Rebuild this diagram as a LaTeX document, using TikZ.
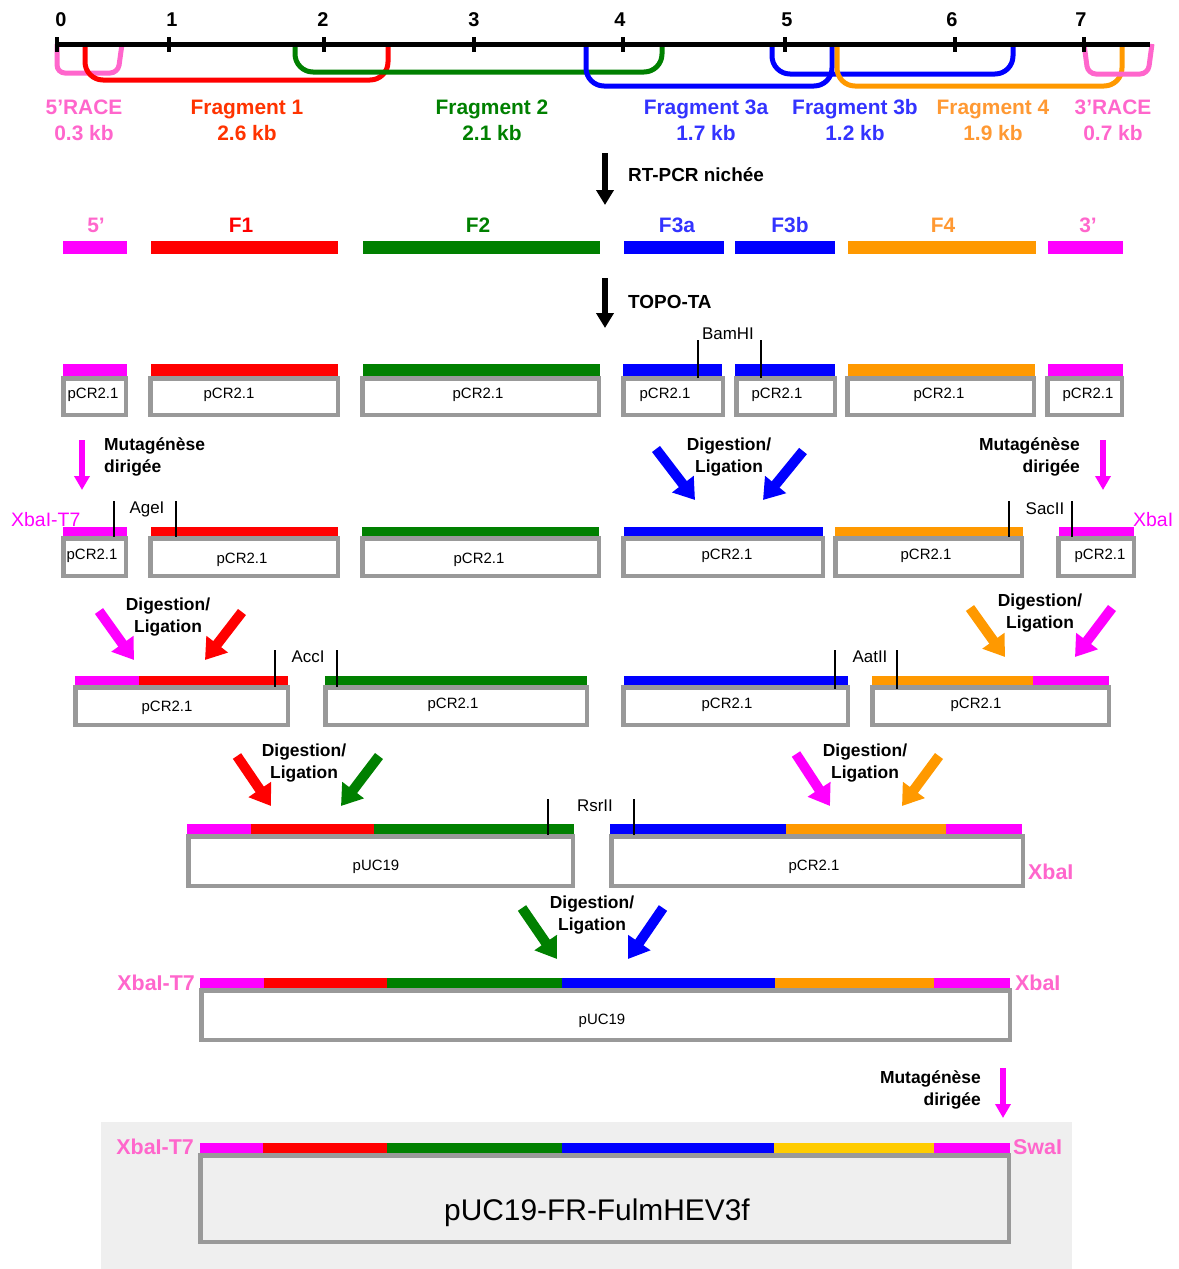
\documentclass[tikz,border=0pt]{standalone}
\usepackage{fontspec}
\setmainfont{Liberation Sans}
\usetikzlibrary{arrows.meta}
\definecolor{cpink}{HTML}{FF66CC}
\definecolor{cmag}{HTML}{FF00FF}
\definecolor{cred}{HTML}{FF0000}
\definecolor{cgreen}{HTML}{008000}
\definecolor{cblue}{HTML}{0000FF}
\definecolor{corange}{HTML}{FF9900}
\definecolor{cyellow}{HTML}{FFCC00}
\definecolor{cgray}{HTML}{999999}
\definecolor{cbg}{HTML}{EFEFEF}
\definecolor{tblue}{HTML}{3333FF}
\definecolor{tred}{HTML}{FF3300}
\definecolor{torange}{HTML}{FF9933}
\tikzset{
  pbox/.style={draw=cgray, line width=4.5bp, fill=white},
  ptxt/.style={inner sep=0pt, font=\fontsize{15}{18}\selectfont},
  enz/.style={inner sep=0pt, font=\fontsize{17}{20}\selectfont},
  steplbl/.style={inner sep=0pt, font=\bfseries\fontsize{17.5}{22}\selectfont},
  rulernum/.style={inner sep=0pt, font=\bfseries\fontsize{20}{24}\selectfont},
  fraglbl/.style={inner sep=0pt, font=\bfseries\fontsize{21}{26}\selectfont, align=center},
  barlbl/.style={inner sep=0pt, font=\bfseries\fontsize{21}{25}\selectfont},
  sitelbl/.style={inner sep=0pt, font=\bfseries\fontsize{21.5}{25}\selectfont, text=cpink},
  sitethin/.style={inner sep=0pt, font=\fontsize{19.5}{23}\selectfont, text=cmag},
  tickline/.style={line width=1.4bp, black},
  fat/.style={line width=10bp, -{Triangle[width=26bp,length=20bp]}},
  thinarr/.style={line width=6bp, -{Triangle[width=15bp,length=14bp]}},
  blkarr/.style={line width=6bp, black, -{Triangle[width=17bp,length=15bp]}},
  bracket/.style={line width=5bp, rounded corners=18bp},
}
\newcommand\pbx[4]{\draw[pbox] (#1+2.25,#2+2.25) rectangle (#3-2.25,#4-2.25);}
\newcommand\barseg[5]{\fill[#1] (#2,#3) rectangle (#4,#5);}
\begin{document}
\begin{tikzpicture}[x=1bp,y=-1bp]
\useasboundingbox (0,0) rectangle (1179,1269);

% ---------- top ruler and fragments ----------
\draw[bracket, cpink, rounded corners=8bp] (57,44) -- (57,73) -- (118,73) -- (122,44);
\draw[bracket, cred] (85,44) -- (85,80) -- (388,80) -- (388,44);
\draw[bracket, cgreen] (295,44) -- (295,72) -- (662,72) -- (662,44);
\draw[bracket, cblue] (586,44) -- (586,86) -- (832,86) -- (832,44);
\draw[bracket, cblue] (772,44) -- (772,74) -- (1013,74) -- (1013,44);
\draw[bracket, corange] (837,44) -- (837,86) -- (1122,86) -- (1122,44);
\draw[bracket, cpink, rounded corners=8bp] (1084,44) -- (1088,74) -- (1148,74) -- (1152,44);
\draw[line width=5bp] (56,44) -- (1150,44);
\foreach \x in {57,169,324,474,623,785,955,1084}{\draw[line width=4bp] (\x,37) -- (\x,52);}
\node[rulernum] (r0) at (61,20) {0};
\node[rulernum] (r1) at (172,20) {1};
\node[rulernum] (r2) at (323,20) {2};
\node[rulernum] (r3) at (474,20) {3};
\node[rulernum] (r4) at (620,20) {4};
\node[rulernum] (r5) at (787,20) {5};
\node[rulernum] (r6) at (952,20) {6};
\node[rulernum] (r7) at (1081,20) {7};

\node[fraglbl, text=cpink] (f5r) at (84,120) {5’RACE\\0.3 kb};
\node[fraglbl, text=tred] (ff1) at (247,120) {Fragment 1\\2.6 kb};
\node[fraglbl, text=cgreen] (ff2) at (492,120) {Fragment 2\\2.1 kb};
\node[fraglbl, text=tblue] (ff3a) at (706,120) {Fragment 3a\\1.7 kb};
\node[fraglbl, text=tblue] (ff3b) at (855,120) {Fragment 3b\\1.2 kb};
\node[fraglbl, text=torange] (ff4) at (993,120) {Fragment 4\\1.9 kb};
\node[fraglbl, text=cpink] (f3r) at (1113,120) {3’RACE\\0.7 kb};

% ---------- RT-PCR ----------
\coordinate (rtA) at (605,153); \coordinate (rtB) at (605,205);
\draw[blkarr] (rtA) -- (rtB);
\node[steplbl, font=\bfseries\fontsize{19}{22}\selectfont, anchor=west] (rtlbl) at (628,175) {RT-PCR nichée};

% ---------- row 2: PCR products ----------
\node[barlbl, text=cpink] (l5) at (96,225) {5’};
\node[barlbl, text=cred] (lf1) at (241,225) {F1};
\node[barlbl, text=cgreen] (lf2) at (478,225) {F2};
\node[barlbl, text=tblue] (lf3a) at (677,225) {F3a};
\node[barlbl, text=tblue] (lf3b) at (790,225) {F3b};
\node[barlbl, text=torange] (lf4) at (943,225) {F4};
\node[barlbl, text=cpink] (l3) at (1088,225) {3’};
\barseg{cmag}{63}{241}{127}{254}
\barseg{cred}{151}{241}{338}{254}
\barseg{cgreen}{363}{241}{600}{254}
\barseg{cblue}{624}{241}{724}{254}
\barseg{cblue}{735}{241}{835}{254}
\barseg{corange}{848}{241}{1036}{254}
\barseg{cmag}{1048}{241}{1123}{254}

% ---------- TOPO-TA ----------
\coordinate (toA) at (605,278); \coordinate (toB) at (605,328);
\draw[blkarr] (toA) -- (toB);
\node[steplbl, font=\bfseries\fontsize{19}{22}\selectfont, anchor=west] (tolbl) at (628,302) {TOPO-TA};

% ---------- row 3: clones in pCR2.1 ----------
\barseg{cmag}{63}{364}{127}{377}   \pbx{61}{376}{128}{417}
\barseg{cred}{151}{364}{338}{377}  \pbx{148}{376}{340}{417}
\barseg{cgreen}{363}{364}{600}{377}\pbx{360}{376}{601}{417}
\barseg{cblue}{623}{364}{722}{377} \pbx{621}{376}{725}{417}
\barseg{cblue}{735}{364}{835}{377} \pbx{734}{376}{837}{417}
\barseg{corange}{848}{364}{1035}{377}\pbx{845}{376}{1036}{417}
\barseg{cmag}{1048}{364}{1123}{377}\pbx{1045}{376}{1124}{417}
\node[ptxt] (p3a) at (93,395) {pCR2.1};
\node[ptxt] (p3b) at (229,395) {pCR2.1};
\node[ptxt] (p3c) at (478,395) {pCR2.1};
\node[ptxt] (p3d) at (665,395) {pCR2.1};
\node[ptxt] (p3e) at (777,395) {pCR2.1};
\node[ptxt] (p3f) at (939,395) {pCR2.1};
\node[ptxt] (p3g) at (1088,395) {pCR2.1};
\draw[tickline] (698,340) -- (698,378);
\draw[tickline] (761,340) -- (761,378);
\node[enz] (bam) at (728,334) {BamHI};

% ---------- step 4 ----------
\coordinate (m1A) at (82,440); \coordinate (m1B) at (82,490);
\draw[thinarr, cmag] (m1A) -- (m1B);
\node[steplbl, align=left, anchor=west] (mut1) at (104,457) {Mutagénèse\\dirigée};
\coordinate (b1A) at (656,449); \coordinate (b1B) at (695,500);
\coordinate (b2A) at (803,451); \coordinate (b2B) at (763,500);
\draw[fat, cblue] (b1A) -- (b1B);
\draw[fat, cblue] (b2A) -- (b2B);
\node[steplbl, align=center] (dl1) at (729,457) {Digestion/\\Ligation};
\coordinate (m2A) at (1103,440); \coordinate (m2B) at (1103,490);
\draw[thinarr, cmag] (m2A) -- (m2B);
\node[steplbl, align=right, anchor=east] (mut2) at (1080,457) {Mutagénèse\\dirigée};

% ---------- row 4 ----------
\barseg{cmag}{63}{527}{127}{537}   \pbx{61}{536}{128}{578}
\barseg{cred}{151}{527}{338}{537}  \pbx{148}{536}{340}{578}
\barseg{cgreen}{362}{527}{599}{537}\pbx{360}{536}{601}{578}
\barseg{cblue}{624}{527}{823}{537} \pbx{621}{536}{825}{578}
\barseg{corange}{835}{527}{1023}{537}\pbx{833}{536}{1024}{578}
\barseg{cmag}{1059}{527}{1134}{537}\pbx{1056}{536}{1136}{578}
\node[ptxt] (p4a) at (92,556) {pCR2.1};
\node[ptxt] (p4b) at (242,560) {pCR2.1};
\node[ptxt] (p4c) at (479,560) {pCR2.1};
\node[ptxt] (p4d) at (727,556) {pCR2.1};
\node[ptxt] (p4e) at (926,556) {pCR2.1};
\node[ptxt] (p4f) at (1100,556) {pCR2.1};
\node[sitethin, anchor=west] (xt7a) at (11,520) {XbaI-T7};
\node[sitethin, anchor=west] (xba) at (1133,520) {XbaI};
\draw[tickline] (114,501) -- (114,537);
\draw[tickline] (176,501) -- (176,537);
\node[enz] (age) at (147,509) {AgeI};
\draw[tickline] (1009,501) -- (1009,537);
\draw[tickline] (1072,501) -- (1072,537);
\node[enz] (sac) at (1045,509) {SacII};

% ---------- step 5 ----------
\coordinate (c1A) at (99,611); \coordinate (c1B) at (134,660);
\coordinate (c2A) at (242,612); \coordinate (c2B) at (205,660);
\draw[fat, cmag] (c1A) -- (c1B);
\draw[fat, cred] (c2A) -- (c2B);
\node[steplbl, align=center] (dl2) at (168,617) {Digestion/\\Ligation};
\coordinate (c3A) at (970,608); \coordinate (c3B) at (1005,657);
\coordinate (c4A) at (1112,608); \coordinate (c4B) at (1075,657);
\draw[fat, corange] (c3A) -- (c3B);
\draw[fat, cmag] (c4A) -- (c4B);
\node[steplbl, align=center] (dl3) at (1040,613) {Digestion/\\Ligation};

% ---------- row 5 ----------
\barseg{cmag}{75}{676}{139}{687}
\barseg{cred}{139}{676}{288}{687}
\pbx{73}{685}{290}{727}
\barseg{cgreen}{325}{676}{587}{687}
\pbx{323}{685}{589}{727}
\barseg{cblue}{624}{676}{848}{687}
\pbx{621}{685}{850}{727}
\barseg{corange}{872}{676}{1033}{687}
\barseg{cmag}{1033}{676}{1109}{687}
\pbx{870}{685}{1111}{727}
\node[ptxt] (p5a) at (167,708) {pCR2.1};
\node[ptxt] (p5b) at (453,705) {pCR2.1};
\node[ptxt] (p5c) at (727,705) {pCR2.1};
\node[ptxt] (p5d) at (976,705) {pCR2.1};
\draw[tickline] (275,650) -- (275,687);
\draw[tickline] (337,650) -- (337,687);
\node[enz] (acc) at (308,657) {AccI};
\draw[tickline] (835,650) -- (835,689);
\draw[tickline] (897,650) -- (897,689);
\node[enz] (aat) at (870,657) {AatII};

% ---------- step 6 ----------
\coordinate (d1A) at (237,756); \coordinate (d1B) at (271,806);
\coordinate (d2A) at (379,756); \coordinate (d2B) at (341,806);
\draw[fat, cred] (d1A) -- (d1B);
\draw[fat, cgreen] (d2A) -- (d2B);
\node[steplbl, align=center] (dl4) at (304,763) {Digestion/\\Ligation};
\coordinate (d3A) at (796,754); \coordinate (d3B) at (830,806);
\coordinate (d4A) at (939,756); \coordinate (d4B) at (902,806);
\draw[fat, cmag] (d3A) -- (d3B);
\draw[fat, corange] (d4A) -- (d4B);
\node[steplbl, align=center] (dl5) at (865,763) {Digestion/\\Ligation};

% ---------- row 6 ----------
\barseg{cmag}{187}{824}{251}{835}
\barseg{cred}{251}{824}{374}{835}
\barseg{cgreen}{374}{824}{574}{835}
\pbx{186}{834}{575}{888}
\barseg{cblue}{610}{824}{786}{835}
\barseg{corange}{786}{824}{946}{835}
\barseg{cmag}{946}{824}{1022}{835}
\pbx{609}{834}{1025}{888}
\node[ptxt] (p6a) at (376,867) {pUC19};
\node[ptxt] (p6b) at (814,867) {pCR2.1};
\draw[tickline] (548,799) -- (548,835);
\draw[tickline] (634,799) -- (634,835);
\node[enz] (rsr) at (595,806) {RsrII};
\node[sitelbl, anchor=west] (xb6) at (1028,872) {XbaI};

% ---------- step 7 ----------
\coordinate (e1A) at (522,908); \coordinate (e1B) at (557,959);
\coordinate (e2A) at (663,908); \coordinate (e2B) at (628,959);
\draw[fat, cgreen] (e1A) -- (e1B);
\draw[fat, cblue] (e2A) -- (e2B);
\node[steplbl, align=center] (dl6) at (592,915) {Digestion/\\Ligation};

% ---------- row 7 ----------
\barseg{cmag}{200}{978}{264}{989}
\barseg{cred}{264}{978}{387}{989}
\barseg{cgreen}{387}{978}{562}{989}
\barseg{cblue}{562}{978}{775}{989}
\barseg{corange}{775}{978}{934}{989}
\barseg{cmag}{934}{978}{1010}{989}
\pbx{199}{988}{1012}{1042}
\node[ptxt] (p7) at (602,1021) {pUC19};
\node[sitelbl, anchor=east] (xt7b) at (195,983) {XbaI-T7};
\node[sitelbl, anchor=west] (xb7) at (1015,983) {XbaI};

% ---------- final construct ----------
\fill[cbg] (101,1122) rectangle (1072,1269);
\coordinate (fA) at (1003,1068); \coordinate (fB) at (1003,1118);
\draw[thinarr, cmag] (fA) -- (fB);
\node[steplbl, align=right, anchor=east] (mut3) at (981,1090) {Mutagénèse\\dirigée};
\barseg{cmag}{200}{1143}{263}{1154}
\barseg{cred}{263}{1143}{387}{1154}
\barseg{cgreen}{387}{1143}{562}{1154}
\barseg{cblue}{562}{1143}{774}{1154}
\barseg{cyellow}{774}{1143}{934}{1154}
\barseg{cmag}{934}{1143}{1010}{1154}
\draw[cgray, line width=4.5bp, fill=cbg] (198+2.25,1153+2.25) rectangle (1011-2.25,1244-2.25);
\node[inner sep=0pt, font=\fontsize{30}{35}\selectfont] (final) at (597,1213) {pUC19-FR-FulmHEV3f};
\node[sitelbl, anchor=east] (xt7c) at (194,1147) {XbaI-T7};
\node[sitelbl, anchor=west] (swa) at (1013,1147) {SwaI};
\end{tikzpicture}
\end{document}
